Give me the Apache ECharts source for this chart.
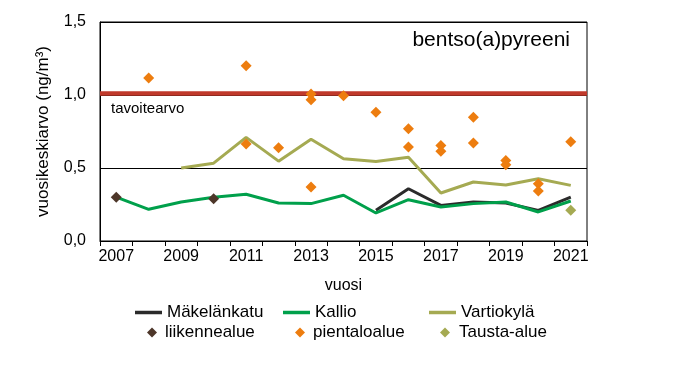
<!DOCTYPE html>
<html><head><meta charset="utf-8">
<script src="https://cdn.jsdelivr.net/npm/echarts@6/dist/echarts.min.js"></script>
<style>html,body{margin:0;padding:0;background:#fff}#c{width:675px;height:369px}</style>
</head><body><div id="c"></div>
<script>
var years = ['2007','2008','2009','2010','2011','2012','2013','2014','2015','2016','2017','2018','2019','2020','2021'];
var makelankatu = [null,null,null,null,null,null,null,null,0.21,0.358,0.244,0.267,0.26,0.21,0.30];
var kallio = [0.301,0.217,0.267,0.30,0.32,0.26,0.256,0.313,0.192,0.283,0.233,0.256,0.267,0.199,0.274];
var vartiokyla = [null,null,0.50,0.533,0.71,0.547,0.697,0.563,0.545,0.574,0.329,0.404,0.383,0.427,0.381];
var liikennealue = [['2007',0.30],['2010',0.29]];
var pientaloalue = [['2008',1.116],['2011',1.20],['2011',0.665],['2012',0.638],['2013',1.007],['2013',0.968],['2013',0.37],['2014',0.995],['2015',0.881],['2016',0.768],['2016',0.643],['2017',0.654],['2017',0.615],['2018',0.847],['2018',0.672],['2019',0.552],['2019',0.522],['2020',0.392],['2020',0.342],['2021',0.679]];
var taustaalue = [['2021',0.21]];
var tavoitearvo = 1.015;

var FONT = 'Liberation Sans';
var chart = echarts.init(document.getElementById('c'));
function lg(name, left, top, icon, w, h, pad) {
  return {data:[name], left:left, top:top, icon:icon, itemWidth:w, itemHeight:h, itemGap:0,
    padding:0, selectedMode:false,
    textStyle:{fontFamily:FONT, fontSize:17, color:'#000', padding:[0,0,0,pad||0]}};
}
chart.setOption({
  animation:false,
  textStyle:{fontFamily:FONT},
  grid:{left:100, right:88, top:22, bottom:128, show:true, borderColor:'#000', borderWidth:1},
  xAxis:{type:'category', data:years, boundaryGap:true,
    name:'vuosi', nameLocation:'middle', nameGap:37,
    nameTextStyle:{fontFamily:FONT, fontSize:16, color:'#000'},
    axisLine:{lineStyle:{color:'#000', width:1}},
    axisTick:{show:true, interval:0, length:5, lineStyle:{color:'#000'}},
    axisLabel:{interval:1, fontFamily:FONT, fontSize:16, color:'#000', margin:8},
    splitLine:{show:false}},
  yAxis:{type:'value', min:0, max:1.5, interval:0.5,
    name:'vuosikeskiarvo (ng/m³)', nameLocation:'middle', nameGap:48, nameRotate:90,
    nameTextStyle:{fontFamily:FONT, fontSize:17, color:'#000'},
    axisLine:{show:true, lineStyle:{color:'#000'}},
    axisTick:{show:false},
    axisLabel:{fontFamily:FONT, fontSize:16, color:'#000', margin:14,
      formatter:function(v){return v.toFixed(1).replace('.',',');}},
    splitLine:{show:true, lineStyle:{color:'#000', width:1}}},
  legend:[
    lg('Mäkelänkatu',135,304,'rect',27,3.5),
    lg('Kallio',283,304,'rect',27,3.5),
    lg('Vartiokylä',429,304,'rect',27,3.5),
    lg('liikennealue',147,324,'diamond',10,10,3),
    lg('pientaloalue',295,324,'diamond',10,10,3),
    lg('Tausta-alue',440,324,'diamond',10,10,4)
  ],
  graphic:[
    {type:'text', left:111, top:101, style:{text:'tavoitearvo', fontFamily:FONT, fontSize:15, fill:'#000'}},
    {type:'text', right:105, top:30, style:{text:'bentso(a)pyreeni', fontFamily:FONT, fontSize:21, fill:'#000'}}
  ],
  series:[
    {name:'tavoite', type:'line', data:[], z:1,
      markLine:{silent:true, symbol:'none', label:{show:false},
        lineStyle:{color:'#c0392b', width:4.5, type:'solid'},
        data:[{yAxis:tavoitearvo}]}},
    {name:'Vartiokylä', type:'line', data:vartiokyla, symbol:'none', z:3,
      lineStyle:{color:'#a5aa52', width:3}, itemStyle:{color:'#a5aa52'}},
    {name:'Mäkelänkatu', type:'line', data:makelankatu, symbol:'none', z:3,
      lineStyle:{color:'#2b2b2b', width:3}, itemStyle:{color:'#2b2b2b'}},
    {name:'Kallio', type:'line', data:kallio, symbol:'none', z:4,
      lineStyle:{color:'#00a04b', width:3}, itemStyle:{color:'#00a04b'}},
    {name:'liikennealue', type:'scatter', data:liikennealue, symbol:'diamond', symbolSize:11, z:5,
      itemStyle:{color:'#4d3629', opacity:1}},
    {name:'pientaloalue', type:'scatter', data:pientaloalue, symbol:'diamond', symbolSize:11, z:5,
      itemStyle:{color:'#ed7d0f', opacity:1}},
    {name:'Tausta-alue', type:'scatter', data:taustaalue, symbol:'diamond', symbolSize:11, z:5,
      itemStyle:{color:'#a5aa52', opacity:1}}
  ]
});
</script></body></html>
